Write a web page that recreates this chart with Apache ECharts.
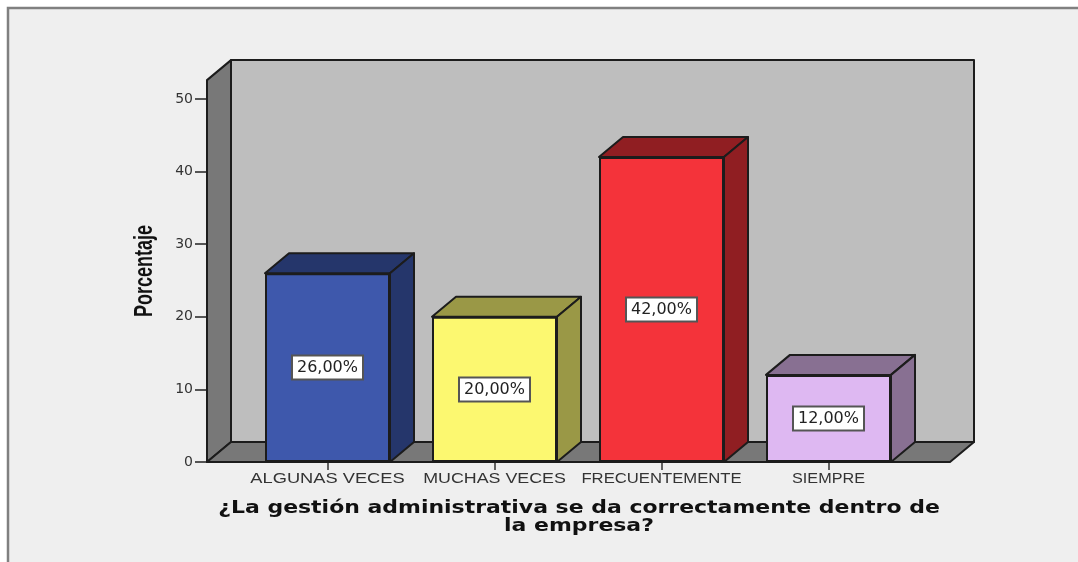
<!DOCTYPE html>
<html>
<head>
<meta charset="utf-8">
<style>
  html, body { margin: 0; padding: 0; background: #fff; }
  #chart { width: 1078px; height: 562px; }
</style>
<script src="https://cdn.jsdelivr.net/npm/echarts@6/dist/echarts.min.js"></script>
</head>
<body>
<div id="chart"></div>
<script>
// datos
var categories = ['ALGUNAS VECES', 'MUCHAS VECES', 'FRECUENTEMENTE', 'SIEMPRE'];
var percentages = [26, 20, 42, 12];
var yTicks = [0, 10, 20, 30, 40, 50];
var xTitle = ['¿La gestión administrativa se da correctamente dentro de', 'la empresa?'];
var yTitle = 'Porcentaje';

// colores
var frontColors = ['#3e58ac', '#fcf870', '#f4333a', '#deb8f2'];
var sideColors = ['#25366b', '#9a9846', '#901e22', '#887092'];
var wallColor = '#bebebe';
var floorColor = '#787878';
var edge = '#1c1c1c';

// la fuente original esta estirada en horizontal
var labelStretch = [1.305, 1.273, 1.19, 1.157];

var depthX = 24, depthY = 20, barW = 125;
var wallTopValue = 52.6;

var myChart = echarts.init(document.getElementById('chart'));

function poly(points, fill) {
  return {
    type: 'polygon',
    shape: { points: points },
    style: { fill: fill, stroke: edge, lineWidth: 2, lineJoin: 'round' }
  };
}

// paredes y suelo del cubo 3D
function renderWalls(params, api) {
  var cs = params.coordSys;
  var left = cs.x - 37, right = cs.x + cs.width + 38;
  var bottom = api.coord([0, 0])[1];
  var top = api.coord([0, wallTopValue])[1];
  return {
    type: 'group',
    children: [
      poly([[left + depthX, top - depthY], [right + depthX, top - depthY], [right + depthX, bottom - depthY], [left + depthX, bottom - depthY]], wallColor),
      poly([[left, top], [left + depthX, top - depthY], [left + depthX, bottom - depthY], [left, bottom]], floorColor),
      poly([[left, bottom], [left + depthX, bottom - depthY], [right + depthX, bottom - depthY], [right, bottom]], floorColor)
    ]
  };
}

// cara superior y lateral de cada barra, mas la etiqueta de categoria
function renderBox(params, api) {
  var i = api.value(0);
  var p = api.coord([i, api.value(1)]);
  var base = api.coord([i, 0]);
  var l = p[0] - barW / 2, r = p[0] + barW / 2;
  return {
    type: 'group',
    children: [
      poly([[l, p[1]], [l + depthX, p[1] - depthY], [r + depthX, p[1] - depthY], [r, p[1]]], sideColors[i]),
      poly([[r, p[1]], [r + depthX, p[1] - depthY], [r + depthX, base[1] - depthY], [r, base[1]]], sideColors[i]),
      {
        type: 'text',
        x: p[0],
        y: base[1] + 17,
        scaleX: labelStretch[i],
        style: {
          text: categories[i],
          font: '14px "Liberation Sans"',
          fill: '#333',
          align: 'center',
          verticalAlign: 'middle'
        }
      }
    ]
  };
}

myChart.setOption({
  animation: false,
  backgroundColor: 'transparent',
  grid: { left: 244, right: 166, top: 99, bottom: 100 },
  xAxis: {
    type: 'category',
    data: categories,
    axisLine: { show: false },
    axisTick: { show: true, alignWithLabel: true, length: 8, lineStyle: { color: '#333', width: 1.5 } },
    axisLabel: { show: false }
  },
  yAxis: {
    type: 'value',
    min: yTicks[0],
    max: yTicks[yTicks.length - 1],
    interval: 10,
    offset: 37,
    axisLine: { show: false },
    axisTick: { show: true, length: 12, lineStyle: { color: '#222', width: 1.5 } },
    axisLabel: { margin: 14, fontFamily: 'DejaVu Sans', fontSize: 14, color: '#333' },
    splitLine: { show: false }
  },
  graphic: [
    {
      type: 'rect', z: -10, silent: true,
      shape: { x: 8, y: 8, width: 1100, height: 600 },
      style: { fill: '#efefef', stroke: '#808080', lineWidth: 2.5 }
    },
    {
      type: 'text', x: 579, y: 508, scaleX: 1.22,
      style: { text: xTitle[0], font: 'bold 18px "DejaVu Sans"', fill: '#111', align: 'center', verticalAlign: 'middle' }
    },
    {
      type: 'text', x: 579, y: 526, scaleX: 1.22,
      style: { text: xTitle[1], font: 'bold 18px "DejaVu Sans"', fill: '#111', align: 'center', verticalAlign: 'middle' }
    },
    {
      type: 'text', x: 145, y: 271, rotation: Math.PI / 2, scaleX: 0.72,
      style: { text: yTitle, font: 'bold 25px "Liberation Sans"', fill: '#111', align: 'center', verticalAlign: 'middle' }
    }
  ],
  series: [
    {
      type: 'custom',
      z: 1,
      silent: true,
      renderItem: renderWalls,
      data: [[0, 0]]
    },
    {
      type: 'custom',
      z: 2,
      silent: true,
      renderItem: renderBox,
      data: percentages.map(function (v, i) { return [i, v]; })
    },
    {
      type: 'bar',
      z: 3,
      barWidth: barW,
      data: percentages.map(function (v, i) {
        return { value: v, itemStyle: { color: frontColors[i] } };
      }),
      itemStyle: { borderColor: edge, borderWidth: 2 },
      label: {
        show: true,
        position: 'inside',
        formatter: function (p) { return p.value.toFixed(2).replace('.', ',') + '%'; },
        fontFamily: 'DejaVu Sans',
        fontSize: 16,
        color: '#222',
        backgroundColor: '#fff',
        borderColor: '#555',
        borderWidth: 2,
        padding: [3, 4]
      }
    }
  ]
});
</script>
</body>
</html>
